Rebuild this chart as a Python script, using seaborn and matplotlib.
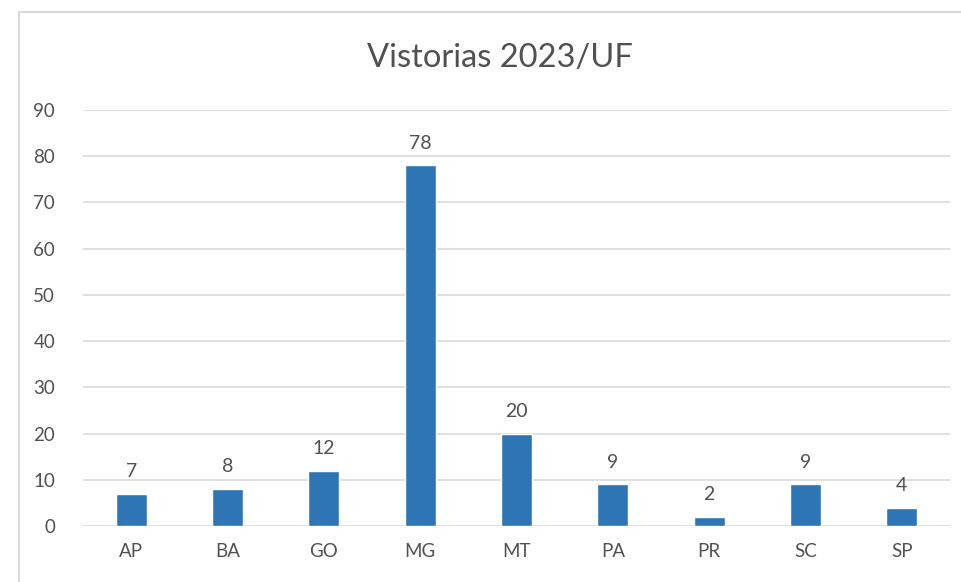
import matplotlib
matplotlib.use("Agg")
import matplotlib.pyplot as plt
import seaborn as sns
import pandas as pd
from matplotlib.patches import Rectangle

categories = ["AP", "BA", "GO", "MG", "MT", "PA", "PR", "SC", "SP"]
values = [7, 8, 12, 78, 20, 9, 2, 9, 4]
yticks = [0, 10, 20, 30, 40, 50, 60, 70, 80, 90]
title = "Vistorias 2023/UF"

sns.set_theme(style="white")
plt.rcParams['font.family'] = ['Lato', 'DejaVu Sans']

W, H = 962, 582
fig = plt.figure(figsize=(W/100, H/100), dpi=100)
ax = fig.add_axes([83/W, 1-526/H, (950-83)/W, (526-110)/H])

df = pd.DataFrame({"UF": categories, "n": values})
sns.barplot(data=df, x="UF", y="n", color="#2E75B6", width=0.32, ax=ax,
            saturation=1, zorder=3)

txt = "#505050"
for i, v in enumerate(values):
    ax.text(i, v + 3.0, str(v), ha="center", va="bottom", fontsize=14, color=txt)

ax.set_ylim(0, 90)
ax.set_xlim(-0.5, len(categories) - 0.5)
ax.set_yticks(yticks)
ax.yaxis.grid(True, color="#D9D9D9", linewidth=1.2, zorder=0)
ax.set_axisbelow(True)
for s in ax.spines.values():
    s.set_visible(False)
ax.tick_params(axis="both", length=0, labelsize=13.5, colors=txt)
ax.tick_params(axis="y", pad=20)
ax.tick_params(axis="x", pad=12)
ax.set_xlabel("")
ax.set_ylabel("")

fig.text(500/W, 1-58/H, title, ha="center", va="center", fontsize=23.5, color=txt)

fig.patches.append(Rectangle((19/W, -0.1), 1.2, 1-12/H+0.1, transform=fig.transFigure,
                             fill=False, edgecolor="#D9D9D9", linewidth=1.5))

fig.savefig("out.png", dpi=100)
